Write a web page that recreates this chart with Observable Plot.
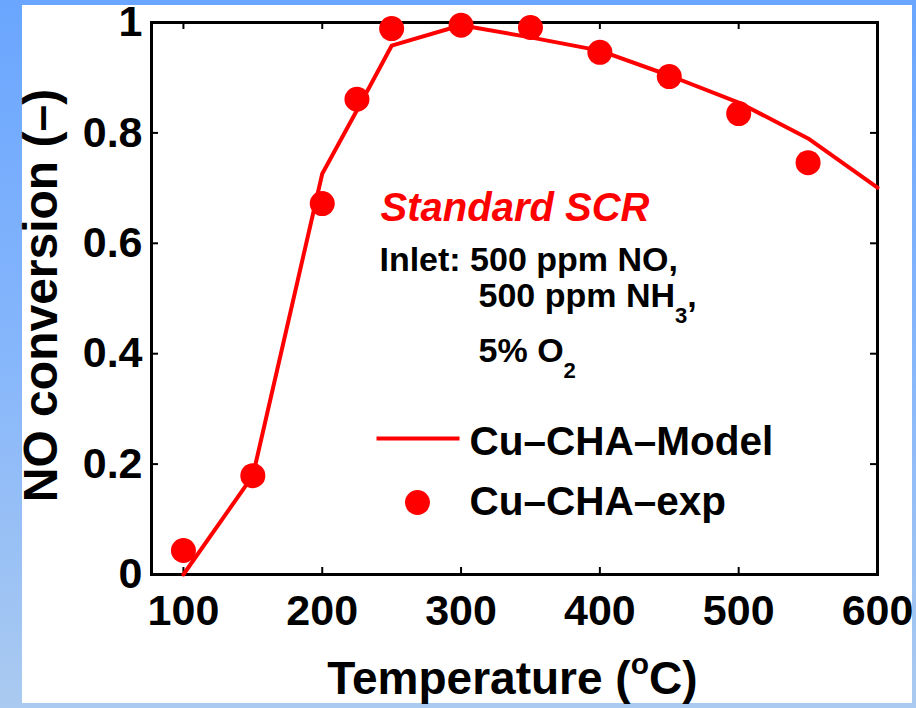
<!DOCTYPE html>
<html><head><meta charset="utf-8">
<script src="https://cdn.jsdelivr.net/npm/d3@7"></script>
<script src="https://cdn.jsdelivr.net/npm/@observablehq/plot@0.6"></script>
<style>
html,body{margin:0;padding:0;}
body{width:916px;height:708px;overflow:hidden;position:relative;background:linear-gradient(180deg,#6aa6fe 0%,#86b6fb 50%,#aacaf0 100%);}
#panel{position:absolute;left:22px;top:5px;width:890px;height:698px;background:#fff;}
#chart{position:absolute;left:0;top:0;}
</style></head>
<body><div id="panel"></div><div id="chart"></div>
<script>
const xTicks = [100, 200, 300, 400, 500, 600];
const yTicks = [0, 0.2, 0.4, 0.6, 0.8, 1];
const yTickLabels = ["0", "0.2", "0.4", "0.6", "0.8", "1"];
const modelTemp = [100, 150, 200, 225, 250, 300, 350, 400, 450, 500, 550, 600];
const modelConv = [0, 0.179, 0.726, 0.841, 0.958, 0.995, 0.973, 0.949, 0.904, 0.855, 0.79, 0.701];
const expTemp = [100, 150, 200, 225, 250, 300, 350, 400, 450, 500, 550];
const expConv = [0.0435, 0.179, 0.672, 0.861, 0.989, 0.995, 0.991, 0.946, 0.902, 0.835, 0.746];
const seriesNames = ["Cu–CHA–Model", "Cu–CHA–exp"];
const xLabel = "Temperature (^{o}C)";
const yLabel = "NO conversion (–)";
const titleText = "Standard SCR";
const inletLines = ["Inlet: 500 ppm NO,", "500 ppm NH_{3},", "5% O_{2}"];

const model = modelTemp.map((t, i) => ({t, c: modelConv[i]}));
const exp = expTemp.map((t, i) => ({t, c: expConv[i]}));

const RED = "#ff0000";
const FONT = "'Liberation Sans', Arial, Helvetica, sans-serif";

const innerH = 708 - 22 - 134;
const innerW = 916 - 151 - 39;
const tickLen = 7;

const chart = Plot.plot({
  width: 916, height: 708,
  marginLeft: 151, marginRight: 39, marginTop: 22, marginBottom: 134,
  x: {domain: [77, 600], axis: null},
  y: {domain: [0, 1], axis: null},
  style: {background: "transparent", fontFamily: FONT, color: "black", overflow: "visible"},
  marks: [
    Plot.axisX({ticks: xTicks, tickSize: 0, tickPadding: 20, fontSize: 43, fontWeight: "bold", label: null, tickFormat: d => String(d)}),
    Plot.axisY({ticks: yTicks, tickSize: 0, tickPadding: 9, fontSize: 43, fontWeight: "bold", label: null, tickFormat: d => yTickLabels[yTicks.indexOf(d)]}),
    Plot.tickX(xTicks, {x: d => d, insetTop: innerH - tickLen, stroke: "black", strokeWidth: 2}),
    Plot.tickX(xTicks, {x: d => d, insetBottom: innerH - tickLen, stroke: "black", strokeWidth: 2}),
    Plot.tickY(yTicks, {y: d => d, insetRight: innerW - tickLen, stroke: "black", strokeWidth: 2}),
    Plot.tickY(yTicks, {y: d => d, insetLeft: innerW - tickLen, stroke: "black", strokeWidth: 2}),
    Plot.frame({stroke: "black", strokeWidth: 3}),
    Plot.line(model, {x: "t", y: "c", stroke: RED, strokeWidth: 4}),
    Plot.dot(exp, {x: "t", y: "c", r: 12.5, fill: RED, stroke: "none"}),
    // annotations
    Plot.text([titleText], {x: 242, y: 0.6413, text: d => d, textAnchor: "start", lineAnchor: "bottom", fontSize: 40, fontWeight: "bold", fontStyle: "italic", fill: RED}),
    Plot.text([inletLines[0]], {x: 241.2, y: 0.5507, text: d => d, textAnchor: "start", lineAnchor: "bottom", fontSize: 34, fontWeight: "bold", fill: "black"}),
    Plot.text([inletLines[1]], {x: 312.6, y: 0.4837, text: d => d, textAnchor: "start", lineAnchor: "bottom", fontSize: 34, fontWeight: "bold", fill: "black"}),
    Plot.text([inletLines[2]], {x: 312.6, y: 0.3841, text: d => d, textAnchor: "start", lineAnchor: "bottom", fontSize: 34, fontWeight: "bold", fill: "black"}),
    // legend
    Plot.link([0], {x1: 239.1, x2: 298.9, y1: 0.2464, y2: 0.2464, stroke: RED, strokeWidth: 4}),
    Plot.dot([0], {x: 268.6, y: 0.1304, r: 12.5, fill: RED, stroke: "none"}),
    Plot.text([seriesNames[0]], {x: 306.1, y: 0.2156, text: d => d, textAnchor: "start", lineAnchor: "bottom", fontSize: 40.5, fontWeight: "bold", fill: "black"}),
    Plot.text([seriesNames[1]], {x: 306.1, y: 0.1069, text: d => d, textAnchor: "start", lineAnchor: "bottom", fontSize: 40.5, fontWeight: "bold", fill: "black"}),
    // axis titles
    Plot.text([xLabel], {x: 337, y: -0.2156, text: d => d, textAnchor: "middle", lineAnchor: "bottom", fontSize: 46, fontWeight: "bold", fill: "black"}),
    Plot.text([yLabel], {x: -1.8, y: 0.5054, text: d => d, rotate: -90, textAnchor: "middle", lineAnchor: "middle", fontSize: 48, fontWeight: "bold", fill: "black"})
  ]
});

// rich text: _{...} subscript, ^{...} superscript
const NS = "http://www.w3.org/2000/svg";
chart.querySelectorAll("text").forEach(el => {
  const s = el.textContent;
  if (!/[_^]\{/.test(s)) return;
  let fsAttr = el.getAttribute("font-size");
  let p = el.parentNode;
  while (!fsAttr && p && p.getAttribute) { fsAttr = p.getAttribute("font-size"); p = p.parentNode; }
  const fs = parseFloat(fsAttr) || 32;
  const parts = [];
  const re = /([_^])\{([^}]*)\}/g;
  let last = 0, m;
  while ((m = re.exec(s))) {
    if (m.index > last) parts.push({type: "n", text: s.slice(last, m.index)});
    parts.push({type: m[1] === "_" ? "sub" : "sup", text: m[2]});
    last = re.lastIndex;
  }
  if (last < s.length) parts.push({type: "n", text: s.slice(last)});
  el.textContent = "";
  let shift = 0;
  parts.forEach(pt => {
    const ts = document.createElementNS(NS, "tspan");
    const target = pt.type === "sub" ? 0.45 * fs : pt.type === "sup" ? -0.42 * fs : 0;
    const dy = target - shift;
    if (dy) ts.setAttribute("dy", dy);
    shift = target;
    if (pt.type !== "n") ts.setAttribute("font-size", 0.65 * fs);
    ts.textContent = pt.text;
    el.appendChild(ts);
  });
});

document.getElementById("chart").appendChild(chart);
</script>
</body></html>
